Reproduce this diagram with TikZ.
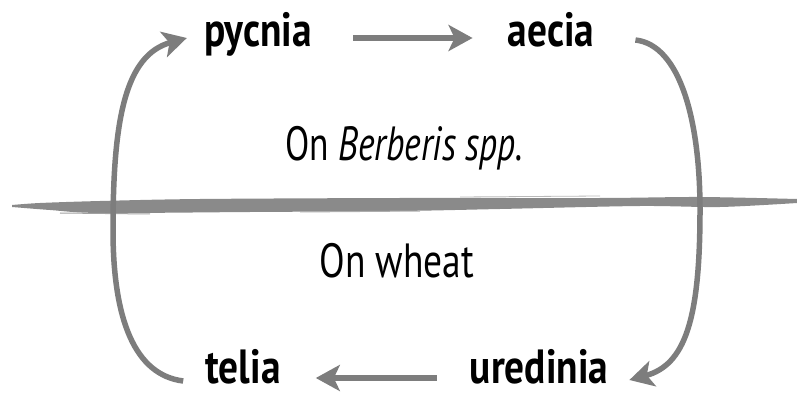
\documentclass[tikz,border=0pt]{standalone}
\usepackage{fontspec}
\setmainfont{PT Sans}
\usetikzlibrary{arrows.meta}
\definecolor{arr}{RGB}{125,125,125}
\definecolor{band}{RGB}{138,138,138}
\begin{document}
\begin{tikzpicture}[x=1pt,y=-1pt,
  lbl/.style={font=\fontsize{48}{48}\selectfont\bfseries, anchor=base, inner sep=0pt},
  note/.style={font=\fontsize{48}{48}\selectfont, anchor=base, inner sep=0pt},
  flow/.style={draw=arr, line width=5.5pt, -{Stealth[length=24pt,width=26pt,inset=6pt]}}]
\useasboundingbox (0,0) rectangle (797,395);
% stage labels
\node[lbl] (pyc) at (258,47) {\scalebox{0.82}[1]{pycnia}};
\node[lbl] (aec) at (551,47) {\scalebox{0.82}[1]{aecia}};
\node[lbl] (ure) at (539,383) {\scalebox{0.82}[1]{uredinia}};
\node[lbl] (tel) at (243,383) {\scalebox{0.82}[1]{telia}};
% host notes
\node[note] (ber) at (404,161) {\scalebox{0.74}[1]{On \textit{Berberis spp.}}};
\node[note] (whe) at (397,277) {\scalebox{0.78}[1]{On wheat}};
% brush stroke divider
\fill[band] plot[smooth] coordinates {(12,205) (40,203) (100,201) (200,199) (400,198) (600,198) (700,197) (797,199)}
  -- plot[smooth] coordinates {(797,203) (720,207) (640,206) (500,209) (400,211) (250,212) (100,213) (50,210) (12,207)} -- cycle;
\draw[band!80, line width=1pt] (60,213) -- (150,214);
\draw[band!70, line width=1pt] (300,212) -- (420,211);
\draw[band!60, line width=0.8pt] (460,197) -- (600,196);
% cycle arrows
\draw[flow] ([xshift=41pt,yshift=9pt]pyc.base east) -- ([xshift=-35pt,yshift=9pt]aec.base west);
\draw[flow] ([xshift=-33pt,yshift=5pt]ure.base west) -- ([xshift=35pt,yshift=5pt]tel.base east);
\draw[flow] ([xshift=41pt,yshift=7pt]aec.base east) .. controls (680,45) and (700,120) .. (700,210)
  .. controls (700,320) and (685,365) .. ([xshift=21pt,yshift=3pt]ure.base east);
\draw[flow] ([xshift=-22pt,yshift=2pt]tel.base west) .. controls (135,375) and (113,320) .. (113,230)
  .. controls (113,120) and (125,55) .. ([xshift=-17pt,yshift=9pt]pyc.base west);
\end{tikzpicture}
\end{document}
